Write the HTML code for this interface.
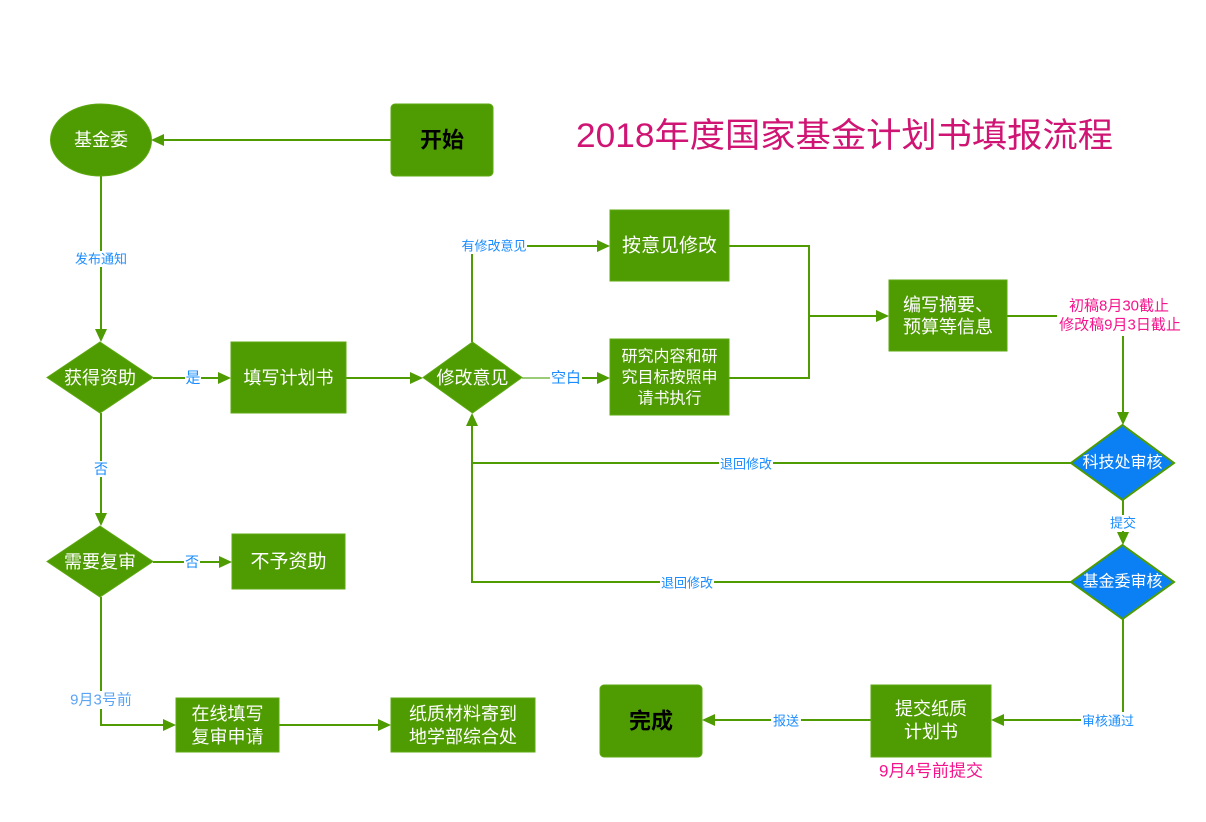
<!DOCTYPE html>
<html><head><meta charset="utf-8">
<style>
html,body{margin:0;padding:0;background:#fff;}
svg{display:block;}
text{font-family:"Liberation Sans","Noto Sans CJK SC",sans-serif;}
.n{fill:#fff;font-size:18px;text-anchor:middle;dominant-baseline:central;}
.l{fill:#1a8cff;font-size:13px;text-anchor:middle;dominant-baseline:central;}
.p{fill:#f5148c;font-size:15px;text-anchor:middle;dominant-baseline:central;}
.ln{stroke:#4f9b02;stroke-width:2;fill:none;}
.ah{fill:#4f9b02;}
.g{fill:#4f9b02;stroke:#5ea812;stroke-width:1;}
</style></head>
<body>
<svg width="1206" height="822" viewBox="0 0 1206 822" xmlns="http://www.w3.org/2000/svg">
<rect width="1206" height="822" fill="#fff"/>

<!-- title -->
<text x="576" y="136" font-size="34" fill="#d01473" dominant-baseline="central" textLength="537" lengthAdjust="spacingAndGlyphs">2018年度国家基金计划书填报流程</text>

<!-- connectors -->
<line class="ln" x1="391" y1="140" x2="160" y2="140"/>
<polygon class="ah" points="151,140 164,134 164,146"/>
<line class="ln" x1="101" y1="176" x2="101" y2="332"/>
<polygon class="ah" points="101,342 95,329 107,329"/>
<line class="ln" x1="153" y1="378" x2="222" y2="378"/>
<polygon class="ah" points="231,378 218,372 218,384"/>
<line class="ln" x1="346" y1="378" x2="414" y2="378"/>
<polygon class="ah" points="423,378 410,372 410,384"/>
<polyline class="ln" points="472,342 472,246 601,246"/>
<polygon class="ah" points="610,246 597,240 597,252"/>
<line x1="522" y1="378" x2="560" y2="378" stroke="#9ccb78" stroke-width="2"/>
<line class="ln" x1="560" y1="378" x2="601" y2="378"/>
<polygon class="ah" points="610,378 597,372 597,384"/>
<polyline class="ln" points="729,246 809,246 809,378 729,378"/>
<line class="ln" x1="809" y1="316" x2="880" y2="316"/>
<polygon class="ah" points="889,316 876,310 876,322"/>
<polyline class="ln" points="1007,316 1123,316 1123,416"/>
<polygon class="ah" points="1123,425 1117,412 1129,412"/>
<polyline class="ln" points="1071,463 472,463 472,422"/>
<polygon class="ah" points="472,413 466,426 478,426"/>
<line class="ln" x1="1123" y1="500" x2="1123" y2="536"/>
<polygon class="ah" points="1123,545 1117,532 1129,532"/>
<polyline class="ln" points="1071,582 472,582 472,463"/>
<polyline class="ln" points="1123,619 1123,720 1000,720"/>
<polygon class="ah" points="991,720 1004,714 1004,726"/>
<line class="ln" x1="871" y1="720" x2="711" y2="720"/>
<polygon class="ah" points="702,720 715,714 715,726"/>
<line class="ln" x1="101" y1="413" x2="101" y2="517"/>
<polygon class="ah" points="101,526 95,513 107,513"/>
<line class="ln" x1="153" y1="562" x2="223" y2="562"/>
<polygon class="ah" points="232,562 219,556 219,568"/>
<polyline class="ln" points="101,597 101,725 167,725"/>
<polygon class="ah" points="176,725 163,719 163,731"/>
<line class="ln" x1="279" y1="725" x2="382" y2="725"/>
<polygon class="ah" points="391,725 378,719 378,731"/>

<!-- nodes -->
<ellipse cx="101" cy="140" rx="50.5" ry="36" class="g"/>
<text class="n" x="101" y="140">基金委</text>

<rect x="391" y="104" width="102" height="72" rx="4" class="g"/>
<text x="442" y="140" font-size="22" font-weight="bold" fill="#000" text-anchor="middle" dominant-baseline="central">开始</text>

<polygon points="100,342 153,377.5 100,413 47,377.5" class="g"/>
<text class="n" x="100" y="378">获得资助</text>

<rect x="231" y="342" width="115" height="71" class="g"/>
<text class="n" x="288.5" y="378">填写计划书</text>

<polygon points="472.5,342 522,377.5 472.5,413 423,377.5" class="g"/>
<text class="n" x="472.5" y="378">修改意见</text>

<rect x="610" y="210" width="119" height="71" class="g"/>
<text class="n" x="669.5" y="246" style="font-size:19px">按意见修改</text>

<rect x="610" y="339" width="119" height="76" class="g"/>
<text class="n" x="669.5" y="357" style="font-size:16px">研究内容和研</text>
<text class="n" x="669.5" y="378" style="font-size:16px">究目标按照申</text>
<text class="n" x="669.5" y="399" style="font-size:16px">请书执行</text>

<rect x="889" y="280" width="118" height="71" class="g"/>
<text class="n" x="903" y="305" style="text-anchor:start">编写摘要、</text>
<text class="n" x="903" y="327" style="text-anchor:start">预算等信息</text>

<polygon points="1122.5,425 1174,463 1122.5,500 1071,463" fill="#0b80f4" stroke="#4f9b02" stroke-width="2"/>
<text class="n" x="1122.5" y="463" style="font-size:16px">科技处审核</text>

<polygon points="1122.5,545 1174,582 1122.5,619 1071,582" fill="#0b80f4" stroke="#4f9b02" stroke-width="2"/>
<text class="n" x="1122.5" y="582" style="font-size:16px">基金委审核</text>

<rect x="871" y="685" width="120" height="72" class="g"/>
<text class="n" x="931" y="709">提交纸质</text>
<text class="n" x="931" y="732">计划书</text>

<rect x="600" y="685" width="102" height="72" rx="4" class="g"/>
<text x="651" y="721" font-size="22" font-weight="bold" fill="#000" text-anchor="middle" dominant-baseline="central">完成</text>

<polygon points="100,526 153,561.5 100,597 47,561.5" class="g"/>
<text class="n" x="100" y="562">需要复审</text>

<rect x="232" y="534" width="113" height="55" class="g"/>
<text class="n" x="288.5" y="562" style="font-size:19px">不予资助</text>

<rect x="176" y="698" width="103" height="54" class="g"/>
<text class="n" x="227.5" y="714">在线填写</text>
<text class="n" x="227.5" y="737">复审申请</text>

<rect x="391" y="698" width="144" height="54" class="g"/>
<text class="n" x="463" y="714">纸质材料寄到</text>
<text class="n" x="463" y="737">地学部综合处</text>

<!-- labels -->
<rect x="74" y="251" width="54" height="16" fill="#fff"/>
<text class="l" x="101" y="259">发布通知</text>
<rect x="185" y="370" width="16" height="16" fill="#fff"/>
<text class="l" x="193" y="378" style="font-size:15px">是</text>
<rect x="460" y="238" width="67" height="16" fill="#fff"/>
<text class="l" x="494" y="246">有修改意见</text>
<rect x="550" y="370" width="32" height="16" fill="#fff"/>
<text class="l" x="566" y="378" style="font-size:15px">空白</text>
<rect x="1057" y="296" width="128" height="40" fill="#fff"/>
<text class="p" x="1119" y="306">初稿8月30截止</text>
<text class="p" x="1120" y="325">修改稿9月3日截止</text>
<rect x="719" y="456" width="54" height="16" fill="#fff"/>
<text class="l" x="746" y="464">退回修改</text>
<rect x="1108" y="515" width="30" height="16" fill="#fff"/>
<text class="l" x="1123" y="523">提交</text>
<rect x="660" y="574" width="54" height="16" fill="#fff"/>
<text class="l" x="687" y="583">退回修改</text>
<rect x="1081" y="712" width="53" height="17" fill="#fff"/>
<text class="l" x="1108" y="721">审核通过</text>
<rect x="771" y="712" width="30" height="16" fill="#fff"/>
<text class="l" x="786" y="721">报送</text>
<text class="p" x="931" y="771" style="font-size:17px">9月4号前提交</text>
<rect x="93" y="461" width="16" height="16" fill="#fff"/>
<text class="l" x="101" y="469" style="font-size:14px">否</text>
<rect x="184" y="554" width="16" height="16" fill="#fff"/>
<text class="l" x="192" y="562" style="font-size:14px">否</text>
<rect x="67" y="691" width="68" height="18" fill="#fff"/>
<text class="l" x="101" y="700" style="font-size:15px;fill:#5ba4f5">9月3号前</text>
</svg>
</body></html>
